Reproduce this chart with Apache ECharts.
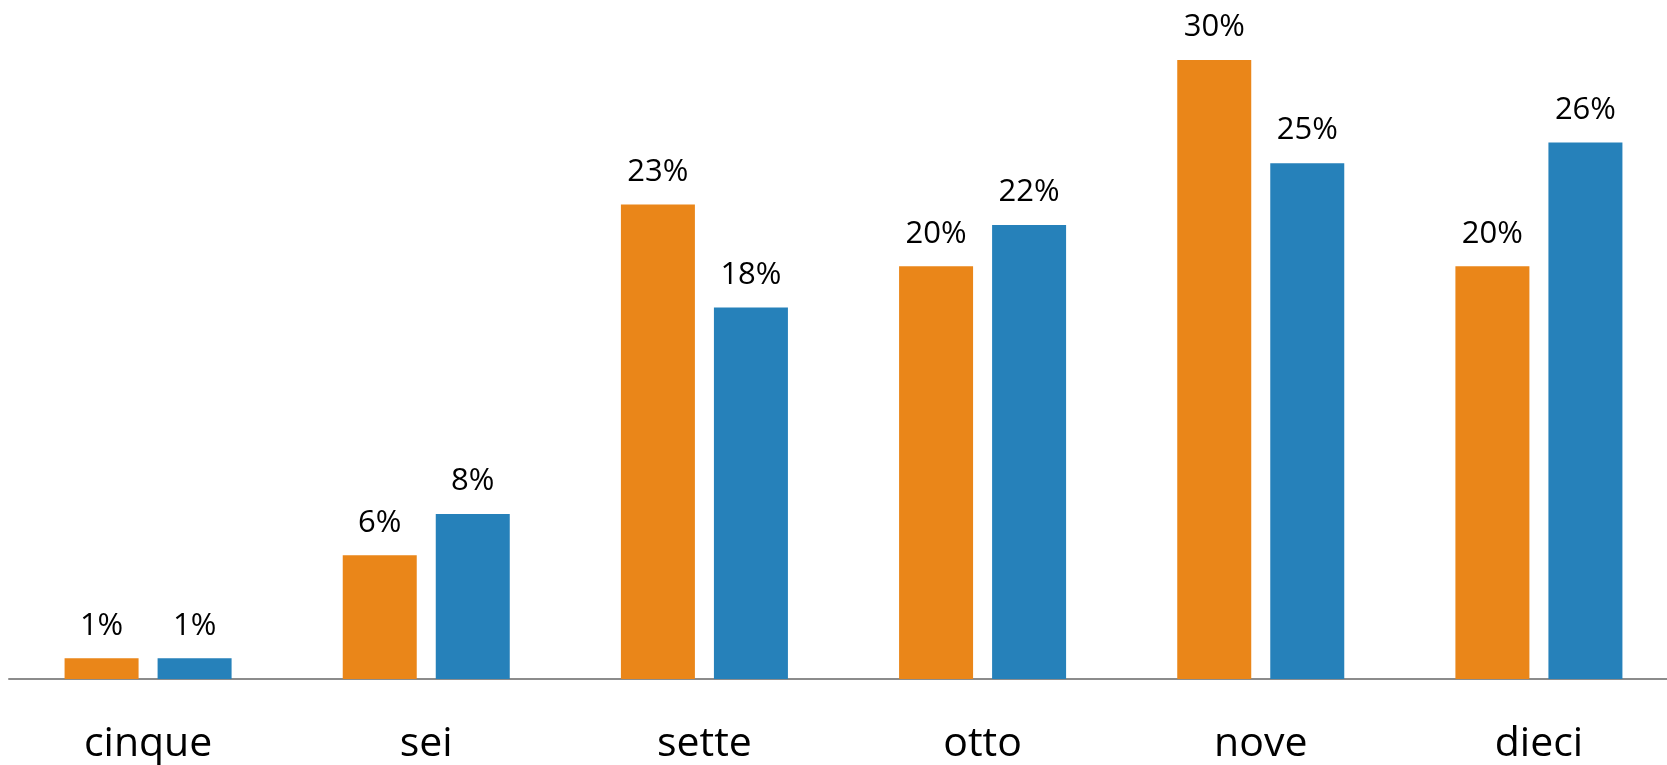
<!DOCTYPE html>
<html>
<head>
<meta charset="utf-8">
<script src="https://cdn.jsdelivr.net/npm/echarts@6/dist/echarts.min.js"></script>
<style>
html,body{margin:0;padding:0;background:#fff;overflow:hidden;}
#chart{width:1680px;height:765px;}
</style>
</head>
<body>
<div id="chart"></div>
<script>
const categories = ['cinque', 'sei', 'sette', 'otto', 'nove', 'dieci'];
const seriesA = [1, 6, 23, 20, 30, 20];
const seriesB = [1, 8, 18, 22, 25, 26];

const chart = echarts.init(document.getElementById('chart'));
const labelStyle = {
  show: true,
  position: 'top',
  distance: 17,
  formatter: '{c}%',
  fontFamily: 'Open Sans',
  fontSize: 31,
  color: '#000'
};
chart.setOption({
  animation: false,
  grid: { left: 9, top: 60, right: 2, height: 620 },
  xAxis: {
    type: 'category',
    data: categories,
    axisLine: { lineStyle: { color: '#8c8c8c', width: 2 } },
    axisTick: { show: false },
    axisLabel: { fontFamily: 'Open Sans', fontSize: 41, color: '#000', margin: 45 }
  },
  yAxis: {
    type: 'value',
    min: 0,
    max: 30,
    show: false,
    splitLine: { show: false }
  },
  series: [
    { type: 'bar', data: seriesA, barWidth: 74, barGap: '25.7%', itemStyle: { color: '#EA8619' }, label: labelStyle },
    { type: 'bar', data: seriesB, barWidth: 74, itemStyle: { color: '#2681BA' }, label: labelStyle }
  ]
});
</script>
</body>
</html>
